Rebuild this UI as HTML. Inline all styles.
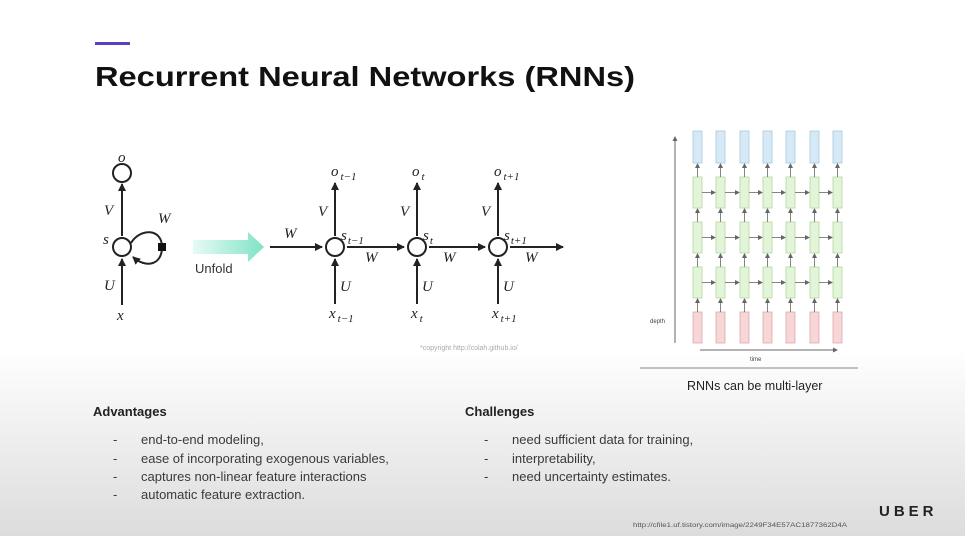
<!DOCTYPE html>
<html><head><meta charset="utf-8"><style>
html,body{margin:0;padding:0;width:965px;height:536px;overflow:hidden;background:#fff}
svg{display:block}
.it{font-family:"Liberation Serif",serif;font-style:italic;fill:#222}
.sans{font-family:"Liberation Sans",sans-serif}
</style></head><body>
<svg width="965" height="536" viewBox="0 0 965 536" xmlns="http://www.w3.org/2000/svg">
<defs>
<linearGradient id="bg" x1="0" y1="0" x2="0" y2="1">
<stop offset="0" stop-color="#ffffff"/><stop offset="0.65" stop-color="#ffffff"/><stop offset="0.8" stop-color="#f0f0f0"/><stop offset="1" stop-color="#dcdcdc"/>
</linearGradient>
<linearGradient id="ua" x1="0" y1="0" x2="1" y2="0">
<stop offset="0" stop-color="#e6fbf5"/><stop offset="1" stop-color="#7fe3c6"/>
</linearGradient>
<marker id="ah" markerWidth="8" markerHeight="8" refX="7" refY="4" orient="auto" markerUnits="userSpaceOnUse"><path d="M0,0 L8,4 L0,8 z" fill="#222"/></marker>
<marker id="sa" markerWidth="5" markerHeight="5" refX="4" refY="2.5" orient="auto" markerUnits="userSpaceOnUse"><path d="M0,0 L5,2.5 L0,5 z" fill="#666"/></marker>
</defs>
<rect width="965" height="536" fill="url(#bg)"/>
<rect x="95" y="42" width="35" height="3" fill="#5b3fc4"/>
<text x="95" y="86" class="sans" font-size="28" font-weight="bold" fill="#111" textLength="540" lengthAdjust="spacingAndGlyphs">Recurrent Neural Networks (RNNs)</text>

<g stroke="#222" stroke-width="2" fill="none">
<circle cx="122" cy="173" r="9" fill="#fff"/>
<circle cx="122" cy="247" r="9" fill="#fff"/>
<line x1="122" y1="236" x2="122" y2="184" marker-end="url(#ah)"/>
<line x1="122" y1="305" x2="122" y2="259" marker-end="url(#ah)"/>
<path d="M131,243 C140,228 162,228 162,247 C162,266 145,268 133,257" marker-end="url(#ah)"/>
</g>
<rect x="158" y="243" width="8" height="8" fill="#111"/>
<g class="it" font-size="15">
<text x="118" y="162">o</text><text x="104" y="215">V</text><text x="103" y="244">s</text>
<text x="104" y="290">U</text><text x="117" y="320">x</text><text x="158" y="223">W</text>
</g>
<path d="M193,240 L248,240 L248,232 L264,247 L248,262 L248,254 L193,254 z" fill="url(#ua)"/>
<text x="195" y="273" class="sans" font-size="13" fill="#333">Unfold</text>

<g stroke="#222" stroke-width="2" fill="none">
<line x1="270" y1="247" x2="322" y2="247" marker-end="url(#ah)"/>
<line x1="347" y1="247" x2="404" y2="247" marker-end="url(#ah)"/>
<line x1="429" y1="247" x2="485" y2="247" marker-end="url(#ah)"/>
<line x1="510" y1="247" x2="563" y2="247" marker-end="url(#ah)"/>
<line x1="335" y1="236" x2="335" y2="183" marker-end="url(#ah)"/>
<line x1="417" y1="236" x2="417" y2="183" marker-end="url(#ah)"/>
<line x1="498" y1="236" x2="498" y2="183" marker-end="url(#ah)"/>
<line x1="335" y1="304" x2="335" y2="259" marker-end="url(#ah)"/>
<line x1="417" y1="304" x2="417" y2="259" marker-end="url(#ah)"/>
<line x1="498" y1="304" x2="498" y2="259" marker-end="url(#ah)"/>
<circle cx="335" cy="247" r="9" fill="#fff"/>
<circle cx="417" cy="247" r="9" fill="#fff"/>
<circle cx="498" cy="247" r="9" fill="#fff"/>
</g>
<g class="it" font-size="15">
<text x="284" y="238">W</text><text x="365" y="262">W</text><text x="443" y="262">W</text><text x="525" y="262">W</text>
<text x="318" y="216">V</text><text x="400" y="216">V</text><text x="481" y="216">V</text>
<text x="340" y="291">U</text><text x="422" y="291">U</text><text x="503" y="291">U</text>
<text x="331" y="176">o<tspan font-size="11" dx="2" dy="4">t−1</tspan></text>
<text x="412" y="176">o<tspan font-size="11" dx="2" dy="4">t</tspan></text>
<text x="494" y="176">o<tspan font-size="11" dx="2" dy="4">t+1</tspan></text>
<text x="341" y="240">s<tspan font-size="11" dx="1" dy="4">t−1</tspan></text>
<text x="423" y="240">s<tspan font-size="11" dx="1" dy="4">t</tspan></text>
<text x="504" y="240">s<tspan font-size="11" dx="1" dy="4">t+1</tspan></text>
<text x="329" y="318">x<tspan font-size="11" dx="2" dy="4">t−1</tspan></text>
<text x="411" y="318">x<tspan font-size="11" dx="2" dy="4">t</tspan></text>
<text x="492" y="318">x<tspan font-size="11" dx="2" dy="4">t+1</tspan></text>
</g>
<text x="420" y="350" class="sans" font-size="7" fill="#aaa">*copyright http://colah.github.io/</text>

<line x1="675" y1="343" x2="675" y2="137" stroke="#666" stroke-width="1" marker-end="url(#sa)"/>
<line x1="700" y1="350" x2="837" y2="350" stroke="#666" stroke-width="1" marker-end="url(#sa)"/>
<text x="650" y="323" class="sans" font-size="6" fill="#444">depth</text>
<text x="750" y="361" class="sans" font-size="6" fill="#444">time</text>
<line x1="640" y1="368" x2="858" y2="368" stroke="#888" stroke-width="1"/>
<text x="687" y="390" class="sans" font-size="12.5" fill="#222">RNNs can be multi-layer</text>
<g stroke-width="0.8"><g id="cols"></g></g>
<script>
(function(){
var ns="http://www.w3.org/2000/svg",g=document.getElementById("cols");
var xs=[693,716,740,763,786,810,833],w=9;
var rows=[[131,163,"#d6e9f7","#a9c8e0"],[177,208,"#e2f5d8","#b4d8a0"],[222,253,"#e2f5d8","#b4d8a0"],[267,298,"#e2f5d8","#b4d8a0"],[312,343,"#f8d6d8","#dca9ad"]];
function el(t,a){var e=document.createElementNS(ns,t);for(var k in a)e.setAttribute(k,a[k]);g.appendChild(e);return e;}
xs.forEach(function(x,ci){
 rows.forEach(function(r,ri){
  el("rect",{x:x,y:r[0],width:w,height:r[1]-r[0],fill:r[2],stroke:r[3]});
  if(ri>0){el("line",{x1:x+w/2,y1:r[0],x2:x+w/2,y2:rows[ri-1][1]+1,stroke:"#666","marker-end":"url(#sa)"});}
  if(ri>=1&&ri<=3&&ci<6){var yy=(r[0]+r[1])/2;el("line",{x1:x+w,y1:yy,x2:xs[ci+1]-1,y2:yy,stroke:"#666","marker-end":"url(#sa)"});}
 });
});
})();
</script>

<g class="sans" fill="#3a3a3a">
<text x="93" y="416" font-size="13" font-weight="bold" fill="#222">Advantages</text>
<text x="465" y="416" font-size="13" font-weight="bold" fill="#222">Challenges</text>
<g font-size="13">
<text x="113" y="444">-</text><text x="141" y="444">end-to-end modeling,</text>
<text x="113" y="463">-</text><text x="141" y="463">ease of incorporating exogenous variables,</text>
<text x="113" y="481">-</text><text x="141" y="481">captures non-linear feature interactions</text>
<text x="113" y="499">-</text><text x="141" y="499">automatic feature extraction.</text>
<text x="484" y="444">-</text><text x="512" y="444">need sufficient data for training,</text>
<text x="484" y="463">-</text><text x="512" y="463">interpretability,</text>
<text x="484" y="481">-</text><text x="512" y="481">need uncertainty estimates.</text>
</g>
<text x="879" y="516" font-size="15" font-weight="bold" fill="#222" letter-spacing="4">UBER</text>
<text x="633" y="527" font-size="6" fill="#555" textLength="214" lengthAdjust="spacingAndGlyphs">http://cfile1.uf.tistory.com/image/2249F34E57AC1877362D4A</text>
</g>
</svg>
</body></html>
